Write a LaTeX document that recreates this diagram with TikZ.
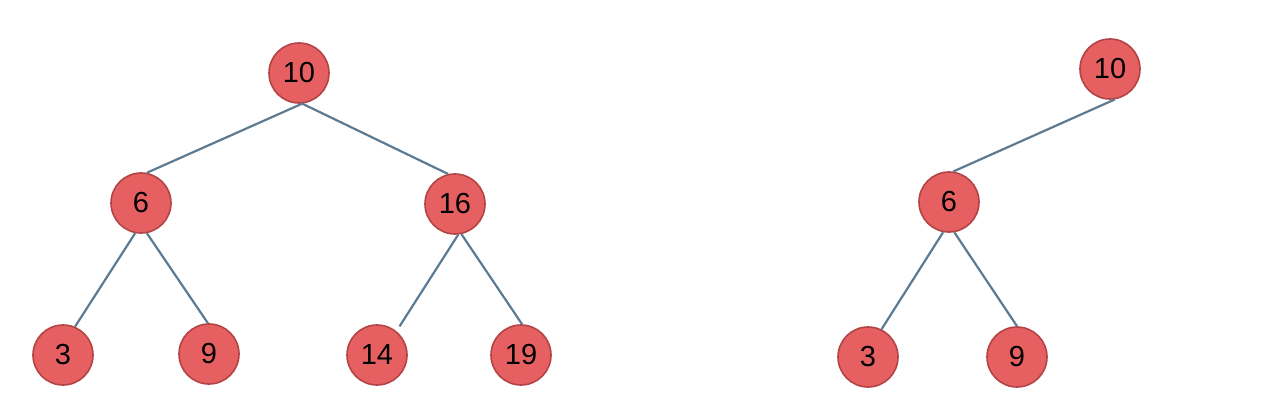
\documentclass[tikz,border=0pt]{standalone}
\usepackage{fontspec}
\setmainfont{Liberation Sans}
\definecolor{nodefill}{RGB}{230,96,97}
\definecolor{nodeline}{RGB}{178,68,70}
\definecolor{edgecol}{RGB}{92,122,145}
\begin{document}
\begin{tikzpicture}[x=1pt,y=-1pt,
  vert/.style={circle,fill=nodefill,draw=nodeline,line width=1.6pt,minimum size=60pt,inner sep=0pt,font=\fontsize{29}{29}\selectfont},
  edge/.style={draw=edgecol,line width=2.2pt}]
\useasboundingbox (0,0) rectangle (1262,414);
% left tree
\node[vert] (a10) at (299,73) {10};
\node[vert] (a6) at (141,203) {6};
\node[vert] (a16) at (455,204) {16};
\node[vert] (a3) at (63,355) {3};
\node[vert] (a9) at (209,354) {9};
\node[vert] (a14) at (377,355) {14};
\node[vert] (a19) at (521,355) {19};
% right tree
\node[vert] (b10) at (1110,69) {10};
\node[vert] (b6) at (949,202) {6};
\node[vert] (b3) at (868,357) {3};
\node[vert] (b9) at (1017,357) {9};
% edges
\draw[edge] (a10.276) -- (a6.79);
\draw[edge] (a10.276) -- (a16.103);
\draw[edge] (a6.259) -- (a3.67);
\draw[edge] (a6.281) -- (a9.92);
\draw[edge] (a16.276) -- ([shift={(4,-4)}]a14.53);
\draw[edge] (a16.282) -- (a19.88);
\draw[edge] (b10.279) -- (b6.82);
\draw[edge] (b6.259) -- (b3.64);
\draw[edge] (b6.280) -- (b9.90);
\end{tikzpicture}
\end{document}
